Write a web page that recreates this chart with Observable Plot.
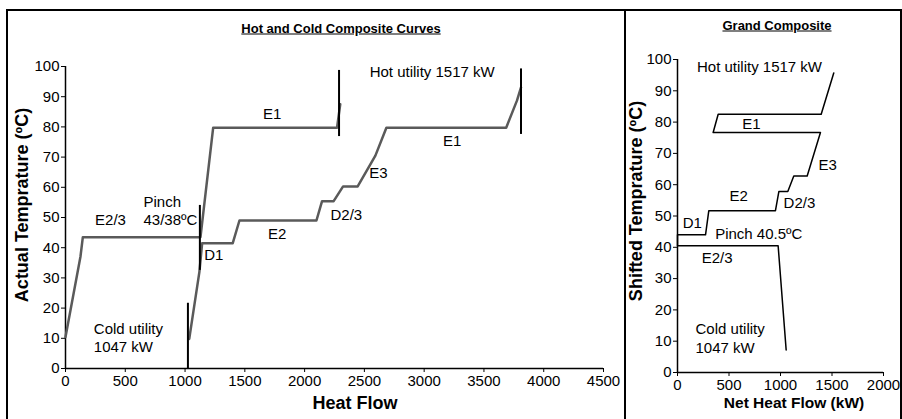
<!DOCTYPE html>
<html><head><meta charset="utf-8">
<script src="https://cdn.jsdelivr.net/npm/d3@7"></script>
<script src="https://cdn.jsdelivr.net/npm/@observablehq/plot@0.6"></script>
<style>
html,body{margin:0;padding:0;background:#fff;}
#wrap{position:relative;width:902px;height:419px;overflow:hidden;font-family:"Liberation Sans",Arial,Helvetica,sans-serif;color:#000;background:#fff;}
.pane{position:absolute;top:0;}
.lbl{position:absolute;white-space:nowrap;transform:translate(-50%,-50%);font-weight:bold;line-height:1;}
.rot{transform:translate(-50%,-50%) rotate(-90deg);}
.ttl{font-size:13px;text-decoration:underline;}
.frame{position:absolute;left:6px;top:9px;width:896px;height:420px;box-sizing:border-box;border:2px solid #000;pointer-events:none;}
.divider{position:absolute;left:624px;top:9px;width:2px;height:420px;background:#000;}
</style></head>
<body>
<div id="wrap">
  <div id="leftPane" class="pane" style="left:0;width:625px;height:419px"></div>
  <div id="rightPane" class="pane" style="left:625px;width:277px;height:419px"></div>
  <div class="lbl ttl" style="left:341px;top:27.5px">Hot and Cold Composite Curves</div>
  <div class="lbl ttl" style="left:777px;top:25px">Grand Composite</div>
  <div class="lbl" style="left:355px;top:402.5px;font-size:18px">Heat Flow</div>
  <div class="lbl" style="left:794px;top:402.5px;font-size:15.5px">Net Heat Flow (kW)</div>
  <div class="lbl rot" style="left:22px;top:205px;font-size:18px">Actual Temprature (ºC)</div>
  <div class="lbl rot" style="left:636px;top:200.5px;font-size:18px">Shifted Temprature (ºC)</div>
  <div class="frame"></div>
  <div class="divider"></div>
</div>
<script>
const FONT = '"Liberation Sans", Arial, Helvetica, sans-serif';

// Tick values
const leftXTicks = [0, 500, 1000, 1500, 2000, 2500, 3000, 3500, 4000, 4500];
const rightXTicks = [0, 500, 1000, 1500, 2000];
const tempTicks = [0, 10, 20, 30, 40, 50, 60, 70, 80, 90, 100];

// Hot composite curve (heat flow kW, temperature °C)
const hotQ = [0, 125, 145, 1129, 1235, 2271, 2298];
const hotT = [10.4, 37, 43.5, 43.5, 79.7, 79.7, 87.5];

// Cold composite curve
const coldQ = [1035, 1120, 1143, 1399, 1455, 2099, 2146, 2243, 2322, 2444, 2592, 2684, 3686, 3776, 3810];
const coldT = [9.8, 32, 41.5, 41.5, 49, 49, 55.4, 55.4, 60.3, 60.3, 70.5, 79.7, 79.7, 88.7, 93.1];

// Utility / pinch marker lines
const utilQ = [1024, 1124, 2288, 3810];
const utilLo = [0, 32.5, 76.8, 77.5];
const utilHi = [21.6, 54, 98.7, 99.2];

// Grand composite curve
const gccQ = [1517, 1395, 395, 346, 1388, 1259, 1129, 1071, 984, 951, 304, 272, 0, 0, 977, 1055];
const gccT = [95.7, 82.5, 82.5, 76.7, 76.7, 62.8, 62.8, 57.8, 57.8, 51.7, 51.7, 44, 44, 40.5, 40.5, 7.2];

// Annotations, left chart
const leftNoteText = ["E1", "Hot utility 1517 kW", "E1", "E3", "D2/3", "E2", "D1", "E2/3"];
const leftNoteQ = [1729, 3067, 3234, 2618, 2349, 1771, 1240, 376];
const leftNoteT = [84.3, 98, 75.3, 64.7, 50.7, 44.6, 37.4, 49];
const leftBlockText = ["Pinch\n43/38ºC", "Cold utility\n1047 kW"];
const leftBlockQ = [652, 237];
const leftBlockT = [52.5, 10.4];

// Annotations, right chart
const rightNoteText = ["Hot utility 1517 kW", "E1", "E3", "E2", "D2/3", "D1", "Pinch 40.5ºC", "E2/3"];
const rightNoteQ = [796, 718, 1459, 595, 1184, 143, 789, 385];
const rightNoteT = [97.4, 79.3, 66.2, 56.3, 54.2, 47.7, 44.1, 36.6];
const rightBlockText = ["Cold utility\n1047 kW"];
const rightBlockQ = [175];
const rightBlockT = [11.2];

const baseStyle = {background: "transparent", fontFamily: FONT, fontSize: "15px", color: "#000", overflow: "visible"};
const fmt = d => String(d);

const left = Plot.plot({
  width: 625, height: 419,
  marginLeft: 65, marginRight: 22, marginTop: 66, marginBottom: 51,
  style: baseStyle,
  x: {domain: [0, 4500]},
  y: {domain: [0, 100]},
  marks: [
    Plot.axisX({ticks: leftXTicks, tickFormat: fmt, tickSize: 4, tickPadding: 3, label: null}),
    Plot.axisY({ticks: tempTicks, tickFormat: fmt, tickSize: 4, tickPadding: 2, label: null}),
    Plot.ruleY([0], {stroke: "#000", strokeWidth: 1.5}),
    Plot.ruleX([0], {stroke: "#000", strokeWidth: 1.5}),
    Plot.line(hotQ, {x: hotQ, y: hotT, stroke: "#5a5a5a", strokeWidth: 2.5}),
    Plot.line(coldQ, {x: coldQ, y: coldT, stroke: "#5a5a5a", strokeWidth: 2.5}),
    Plot.ruleX(utilQ, {x: utilQ, y1: utilLo, y2: utilHi, stroke: "#000", strokeWidth: 2}),
    Plot.text(leftNoteText, {x: leftNoteQ, y: leftNoteT, text: leftNoteText, fill: "#000", fontSize: 15}),
    Plot.text(leftBlockText, {x: leftBlockQ, y: leftBlockT, text: leftBlockText, fill: "#000", fontSize: 15, textAnchor: "start", lineHeight: 1.25})
  ]
});
document.getElementById("leftPane").append(left);

const right = Plot.plot({
  width: 277, height: 419,
  marginLeft: 52, marginRight: 19, marginTop: 59, marginBottom: 47,
  style: baseStyle,
  x: {domain: [0, 2000]},
  y: {domain: [0, 100]},
  marks: [
    Plot.axisX({ticks: rightXTicks, tickFormat: fmt, tickSize: 4, tickPadding: 3, label: null}),
    Plot.axisY({ticks: tempTicks, tickFormat: fmt, tickSize: 4, tickPadding: 2, label: null}),
    Plot.ruleY([0], {stroke: "#000", strokeWidth: 1.5}),
    Plot.ruleX([0], {stroke: "#000", strokeWidth: 1.5}),
    Plot.line(gccQ, {x: gccQ, y: gccT, stroke: "#000", strokeWidth: 1.5}),
    Plot.text(rightNoteText, {x: rightNoteQ, y: rightNoteT, text: rightNoteText, fill: "#000", fontSize: 15}),
    Plot.text(rightBlockText, {x: rightBlockQ, y: rightBlockT, text: rightBlockText, fill: "#000", fontSize: 15, textAnchor: "start", lineHeight: 1.25})
  ]
});
document.getElementById("rightPane").append(right);
</script>
</body></html>
